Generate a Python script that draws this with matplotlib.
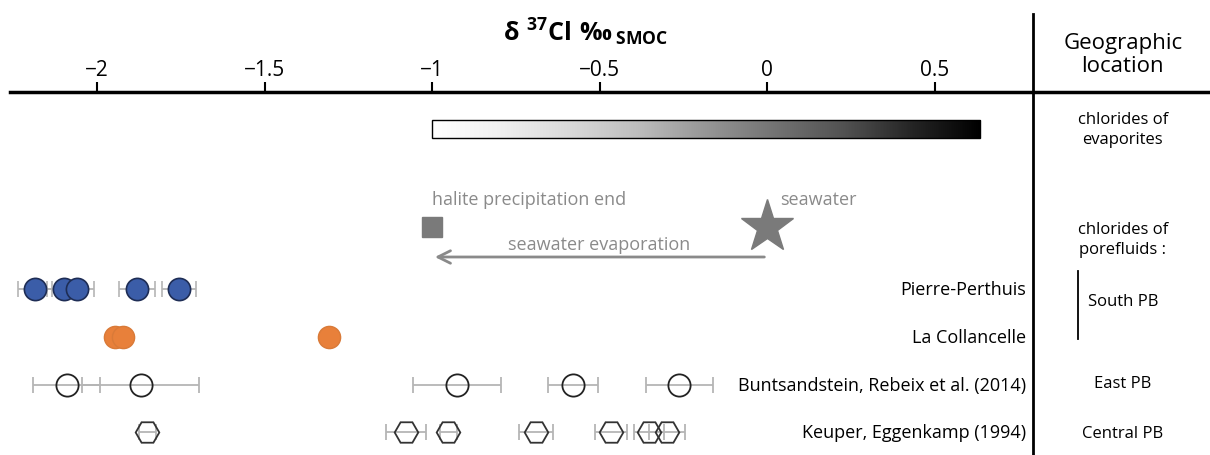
import numpy as np
import matplotlib
matplotlib.use("Agg")
import matplotlib.pyplot as plt

plt.rcParams['font.family'] = ['Open Sans', 'DejaVu Sans']
plt.rcParams['mathtext.fontset'] = 'custom'
plt.rcParams['mathtext.rm'] = 'Open Sans'
plt.rcParams['mathtext.bf'] = 'Open Sans:bold'

# --- data (delta37Cl, permil SMOC) ---
pp_vals = [-2.185, -2.10, -2.06, -1.88, -1.755]
pp_err = [0.05, 0.05, 0.05, 0.054, 0.05]

lc_vals = [-1.946, -1.922, -1.307]

bunt_vals = [-2.09, -1.87, -0.925, -0.579, -0.263]
bunt_err = [0.10, 0.175, 0.131, 0.075, 0.10]

keup_vals = [-1.85, -1.078, -0.952, -0.69, -0.466, -0.352, -0.299]
keup_err = [0.025, 0.06, 0.025, 0.05, 0.048, 0.045, 0.055]

halite_end = -1.0
seawater = 0.0
evap_range = [-1.0, 0.636]

row_labels = ["Pierre-Perthuis", "La Collancelle",
              "Buntsandstein, Rebeix et al. (2014)", "Keuper, Eggenkamp (1994)"]
tick_vals = [-2, -1.5, -1, -0.5, 0, 0.5]
tick_labels = ["\u22122", "\u22121.5", "\u22121", "\u22120.5", "0", "0.5"]

# row positions (y measured downward, pixel-like units)
y_pp, y_lc, y_bu, y_ke = 290, 338, 386, 433

TOP = 93
fig = plt.figure(figsize=(12.1, 4.56), dpi=100)
ax = fig.add_axes([10 / 1210, 0, 1200 / 1210, (456 - TOP) / 456])
ax.set_xlim(-2.26, 1.322)
ax.set_ylim(456, TOP)

for s in ['left', 'right', 'bottom']:
    ax.spines[s].set_visible(False)
ax.spines['top'].set_linewidth(2.5)
ax.xaxis.tick_top()
ax.set_xticks(tick_vals)
ax.set_xticklabels(tick_labels, fontsize=15)
ax.tick_params(axis='x', direction='out', length=7.5, width=1.5, pad=1)
ax.set_yticks([])

# title
ax.text(-0.543, 32, r"$\mathbf{δ\ ^{37}Cl\ ‰\,_{SMOC}}$", fontsize=18,
        ha='center', va='center', clip_on=False)

# divider
ax.plot([0.794, 0.794], [15, 456], color='black', lw=2, clip_on=False)

# gradient bar for evaporites
grad = np.linspace(0, 1, 256).reshape(1, -1)
ax.imshow(grad, cmap='Greys', extent=[evap_range[0], evap_range[1], 139, 121],
          aspect='auto', vmin=0, vmax=1, zorder=2)
ax.add_patch(plt.Rectangle((evap_range[0], 121), evap_range[1] - evap_range[0], 18,
                           fill=False, ec='black', lw=1, zorder=3))

# seawater / halite
grey = '#7a7a7a'
ax.plot(halite_end, 228, marker='s', ms=14, color=grey, mec=grey)
ax.plot(seawater, 228, marker='*', ms=40, color=grey, mec=grey)
ax.annotate("", xy=(halite_end, 258), xytext=(seawater, 258),
            arrowprops=dict(arrowstyle='->,head_length=0.9,head_width=0.45',
                            color='#8a8a8a', lw=2))
ax.text(halite_end, 200, "halite precipitation end", fontsize=13, color='#8a8a8a',
        ha='left', va='center')
ax.text(seawater + 0.04, 200, "seawater", fontsize=13, color='#8a8a8a',
        ha='left', va='center')
ax.text(-0.5, 245, "seawater evaporation", fontsize=13, color='#8a8a8a',
        ha='center', va='center')

errkw = dict(ecolor='#b5b5b5', elinewidth=1.3, capsize=6, capthick=1.3, ls='none')

# Pierre-Perthuis
ax.errorbar(pp_vals, [y_pp] * len(pp_vals), xerr=pp_err, marker='o', ms=16,
            mfc='#3b5da8', mec='#1e2d55', mew=1.2, **errkw)
# La Collancelle
ax.plot(lc_vals, [y_lc] * len(lc_vals), 'o', ms=16, mfc='#e8803a', mec='#d97a38', mew=1)
# Buntsandstein
ax.errorbar(bunt_vals, [y_bu] * len(bunt_vals), xerr=bunt_err, marker='o', ms=16,
            mfc='none', mec='#222222', mew=1.3, **errkw)
# Keuper
ax.errorbar(keup_vals, [y_ke] * len(keup_vals), xerr=keup_err, marker='H', ms=17,
            mfc='none', mec='#333333', mew=1.3, **errkw)

# row labels
for y, lab in zip([y_pp, y_lc, y_bu, y_ke], row_labels):
    ax.text(0.772, y, lab, fontsize=13, ha='right', va='center')

# right column
xc = 1.062
ax.text(xc, 55, "Geographic\nlocation", fontsize=16, ha='center', va='center',
        linespacing=1.1, clip_on=False)
ax.text(xc, 130, "chlorides of\nevaporites", fontsize=12, ha='center', va='center',
        linespacing=1.3)
ax.text(xc, 240, "chlorides of\nporefluids :", fontsize=12, ha='center', va='center',
        linespacing=1.3)
ax.plot([0.928, 0.928], [272, 340], color='black', lw=1.3)
ax.text(xc, 302, "South PB", fontsize=12, ha='center', va='center')
ax.text(xc, 384, "East PB", fontsize=12, ha='center', va='center')
ax.text(xc, 434, "Central PB", fontsize=12, ha='center', va='center')

fig.savefig("out.png", dpi=100)
